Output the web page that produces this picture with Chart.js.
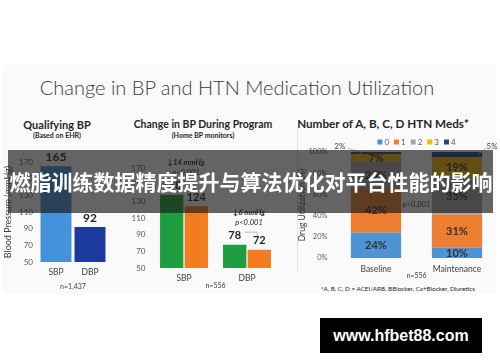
<!DOCTYPE html>
<html><head><meta charset="utf-8">
<script src="https://cdn.jsdelivr.net/npm/chart.js@4.4.0/dist/chart.umd.min.js"></script>
<style>
html,body{margin:0;padding:0;background:#fff;width:500px;height:362px;overflow:hidden;font-family:Lato,sans-serif;}
#slide{position:absolute;left:3px;top:65px;width:494px;height:229px;background:#fafafa;}
.c{position:absolute;white-space:nowrap;color:#262626;transform:translate(-50%,-50%);line-height:1;font-family:Lato,sans-serif;}
canvas{position:absolute;}
#banner{position:absolute;left:8px;top:150px;width:485px;height:63px;background:rgba(28,28,28,0.68);z-index:5;}
#bannerText{position:absolute;left:1px;top:150px;width:500px;height:63px;line-height:63px;text-align:center;color:#fff;font-family:"Noto Sans CJK SC",sans-serif;font-weight:700;font-size:21px;z-index:6;white-space:nowrap;}
#wm{position:absolute;left:320px;top:318px;width:162px;height:35px;background:#000;color:#fff;font-family:"Liberation Sans",Arial,sans-serif;font-weight:700;font-size:16px;line-height:35px;text-align:center;z-index:7;}
</style></head>
<body>
<div id="slide"></div>
<div class="c" style="left:237px;top:87px;font-size:20px;font-weight:300;color:#3a3a3a;">Change in BP and HTN Medication Utilization</div>
<div class="c" style="left:57px;top:124px;font-size:11px;font-weight:700;">Qualifying BP</div>
<div class="c" style="left:57px;top:135px;font-size:7px;font-weight:700;">(Based on EHR)</div>
<div class="c" style="left:203px;top:124px;font-size:10.5px;font-weight:700;">Change in BP During Program</div>
<div class="c" style="left:203px;top:135px;font-size:7px;font-weight:700;">(Home BP monitors)</div>
<div class="c" style="left:383px;top:124px;font-size:11.7px;font-weight:700;">Number of A, B, C, D HTN Meds*</div>
<div class="c" style="left:398px;top:289px;font-size:6.3px;">*A, B, C, D = ACEI/ARB, BBlocker, Ca+Blocker, Diuretics</div>
<canvas id="c1" width="115" height="160" style="left:0px;top:140px;"></canvas>
<canvas id="c2" width="165" height="160" style="left:120px;top:140px;"></canvas>
<canvas id="c3" width="210" height="155" style="left:290px;top:130px;"></canvas>
<div style="position:absolute;left:297px;top:127px;width:1px;height:146px;background:#e2e2e2;"></div>
<div id="banner"></div>
<div id="bannerText">燃脂训练数据精度提升与算法优化对平台性能的影响</div>
<div id="wm">www.hfbet88.com</div>
<script>
const bpCategories = ['SBP', 'DBP'];
const qualifyingBP = [165, 92];
const programBaseline = [138, 78];
const programMaintenance = [124, 72];
const bpTicks = [50, 70, 90, 110, 130, 150, 170];
const medPhases = ['Baseline', 'Maintenance'];
const medCountLabels = ['0', '1', '2', '3', '4'];
const meds0 = [24, 10];
const meds1 = [42, 31];
const meds2 = [25, 35];
const meds3 = [7, 19];
const meds4 = [2, 5];
const pctTicks = [0, 20, 40, 60, 80, 100];

const FONT = 'Lato';

function drawLegend(chart, items, centerX, y, box, textGap, itemGap, size) {
  const ctx = chart.ctx;
  ctx.save();
  ctx.font = size + 'px ' + FONT;
  let total = 0;
  const widths = items.map(it => ctx.measureText(it.text).width);
  widths.forEach((w, i) => { total += box + textGap + w + (i < items.length - 1 ? itemGap : 0); });
  let x = centerX - total / 2;
  ctx.textBaseline = 'middle';
  ctx.textAlign = 'left';
  items.forEach((it, i) => {
    ctx.fillStyle = it.color;
    ctx.fillRect(x, y - box / 2, box, box);
    ctx.fillStyle = '#595959';
    ctx.fillText(it.text, x + box + textGap, y);
    x += box + textGap + widths[i] + itemGap;
  });
  ctx.restore();
}

const valueLabels1 = {
  id: 'valueLabels1',
  afterDatasetsDraw(chart) {
    const ctx = chart.ctx;
    ctx.save();
    ctx.font = 'bold 12px ' + FONT;
    ctx.fillStyle = '#262626';
    ctx.textAlign = 'center'; ctx.textBaseline = 'middle';
    chart.data.datasets.forEach((ds, i) => {
      chart.getDatasetMeta(i).data.forEach((bar, j) => {
        ctx.fillText(String(ds.data[j]), bar.x, bar.y - 9);
      });
    });
    ctx.restore();
  }
};

const baseScale = (tickSize) => ({
  grid: { display: false, drawTicks: false },
  border: { display: false },
  ticks: { color: '#595959', font: { family: FONT, size: tickSize } }
});

// Chart 1
const s1x = baseScale(8.5);
s1x.ticks.padding = 5; s1x.ticks.color = '#404040';
s1x.title = { display: true, text: 'n=1,437', color: '#404040', font: { family: FONT, size: 7 }, padding: { top: 0, bottom: 9 } };
s1x.afterFit = s => { s.height = 38; };
const s1y = baseScale(8);
s1y.min = bpTicks[0]; s1y.max = bpTicks[bpTicks.length - 1];
s1y.ticks.stepSize = bpTicks[1] - bpTicks[0]; s1y.ticks.padding = 6;
s1y.title = { display: true, text: 'Blood Pressure (mmHg)', color: '#404040', font: { family: FONT, size: 9 }, padding: { top: 3, bottom: 0 } };
s1y.afterFit = s => { s.width = 39; };

new Chart(document.getElementById('c1'), {
  type: 'bar',
  data: { labels: bpCategories, datasets: [{ label: 'Qualifying BP', data: qualifyingBP, backgroundColor: ['#4592da', '#1c3a9e'], barPercentage: 0.91, categoryPercentage: 1 }] },
  options: {
    responsive: false, animation: false, devicePixelRatio: 1,
    layout: { padding: { top: 22, right: 8, left: 0, bottom: 0 } },
    plugins: { legend: { display: false }, tooltip: { enabled: false } },
    scales: { x: s1x, y: s1y }
  },
  plugins: [valueLabels1]
});

// Chart 2
const chart2Extras = {
  id: 'chart2Extras',
  afterDatasetsDraw(chart) {
    const ctx = chart.ctx;
    const mb = chart.getDatasetMeta(0).data;
    const mm = chart.getDatasetMeta(1).data;
    const dsB = chart.data.datasets[0].data, dsM = chart.data.datasets[1].data;
    ctx.save();
    ctx.strokeStyle = '#b8b8b8'; ctx.lineWidth = 1;
    mb.forEach((b, j) => {
      const m = mm[j];
      const y1 = b.y - 13, y2 = m.y - 13;
      ctx.beginPath();
      ctx.moveTo(b.x + 10, y1 + 0.5); ctx.lineTo(m.x - 2, y1 + 0.5); ctx.lineTo(m.x - 2, y2);
      ctx.stroke();
    });
    ctx.font = 'bold 11px ' + FONT;
    ctx.fillStyle = '#262626';
    ctx.textAlign = 'center'; ctx.textBaseline = 'middle';
    mb.forEach((b, j) => ctx.fillText(String(dsB[j]), b.x, b.y - 9));
    mm.forEach((m, j) => ctx.fillText(String(dsM[j]), m.x, m.y - 9));
    mb.forEach((b, j) => {
      const m = mm[j];
      const cx = (b.x + m.x) / 2 + 2;
      ctx.font = 'italic bold 7.5px ' + FONT;
      ctx.fillStyle = '#262626';
      ctx.fillText('\u2193' + (dsB[j] - dsM[j]) + ' mmHg', cx, b.y - 32);
      ctx.font = 'italic 7.5px ' + FONT;
      ctx.fillText('p<0.001', cx, b.y - 22);
    });
    ctx.restore();
    drawLegend(chart, chart.data.datasets.map(d => ({ text: d.label, color: d.backgroundColor })), 218, 11, 5, 3, 10, 8.5);
  }
};
const s2x = baseScale(8.5);
s2x.ticks.padding = 5; s2x.ticks.color = '#404040';
s2x.title = { display: true, text: 'n=556', color: '#404040', font: { family: FONT, size: 7 }, padding: { top: 0, bottom: 10 } };
s2x.afterFit = s => { s.height = 32; };
const s2y = baseScale(8);
s2y.min = bpTicks[0]; s2y.max = bpTicks[bpTicks.length - 1];
s2y.ticks.stepSize = bpTicks[1] - bpTicks[0]; s2y.ticks.padding = 7;
s2y.afterFit = s => { s.width = 32.5; };

new Chart(document.getElementById('c2'), {
  type: 'bar',
  data: { labels: bpCategories, datasets: [
    { label: 'Baseline', data: programBaseline, backgroundColor: '#1f9e40', barPercentage: 0.95, categoryPercentage: 0.78 },
    { label: 'Maintenance', data: programMaintenance, backgroundColor: '#f47c20', barPercentage: 0.95, categoryPercentage: 0.78 }
  ] },
  options: {
    responsive: false, animation: false, devicePixelRatio: 1,
    layout: { padding: { top: 28, right: 6.5, left: 0, bottom: 0 } },
    plugins: { legend: { display: false }, tooltip: { enabled: false } },
    scales: { x: s2x, y: s2y }
  },
  plugins: [chart2Extras]
});

// Chart 3
const medColors = ['#4f93d2', '#ed7d31', '#a5a5a5', '#f5b800', '#264478'];
const medSeries = [meds0, meds1, meds2, meds3, meds4];
const chart3Extras = {
  id: 'chart3Extras',
  afterDatasetsDraw(chart) {
    const ctx = chart.ctx;
    ctx.save();
    ctx.textAlign = 'center'; ctx.textBaseline = 'middle';
    chart.data.datasets.forEach((ds, i) => {
      chart.getDatasetMeta(i).data.forEach((bar, j) => {
        const v = ds.data[j];
        if (v >= 7) {
          ctx.font = 'bold 11px ' + FONT;
          ctx.fillStyle = '#303030';
          ctx.fillText(v + '%', bar.x, (bar.y + bar.base) / 2 + 0.5);
        } else {
          ctx.font = '8px ' + FONT;
          ctx.fillStyle = '#404040';
          ctx.strokeStyle = '#b0b0b0'; ctx.lineWidth = 0.8;
          const midY = (bar.y + bar.base) / 2;
          const left = bar.x - bar.width / 2, right = bar.x + bar.width / 2;
          ctx.beginPath();
          if (j === 0) {
            ctx.moveTo(left + 11, midY); ctx.lineTo(left - 3, bar.y - 4); ctx.stroke();
            ctx.fillText(v + '%', left - 11, bar.y - 6);
          } else {
            ctx.moveTo(right - 4, midY); ctx.lineTo(right + 5, bar.y - 5); ctx.stroke();
            ctx.fillText(v + '%', right + 10, bar.y - 6);
          }
        }
      });
    });
    const ca = chart.chartArea;
    ctx.font = 'italic 7.5px ' + FONT;
    ctx.fillStyle = '#404040';
    ctx.fillText('p<0.001', (ca.left + ca.right) / 2, (ca.top + ca.bottom) / 2);
    ctx.restore();
    drawLegend(chart, chart.data.datasets.map(d => ({ text: d.label, color: d.backgroundColor })), (ca.left + ca.right) / 2, 12, 5, 2, 5, 8);
  }
};
const s3x = baseScale(8.5);
s3x.stacked = true;
s3x.ticks.padding = 6; s3x.ticks.color = '#404040';
s3x.title = { display: true, text: 'n=556', color: '#404040', font: { family: FONT, size: 7 }, padding: { top: 0, bottom: 5 } };
s3x.afterFit = s => { s.height = 27; };
const s3y = baseScale(7.5);
s3y.stacked = true;
s3y.min = pctTicks[0]; s3y.max = pctTicks[pctTicks.length - 1];
s3y.ticks.stepSize = pctTicks[1] - pctTicks[0]; s3y.ticks.padding = 8;
s3y.ticks.callback = v => v + '%';
s3y.title = { display: true, text: 'Drug Utilization (%)', color: '#404040', font: { family: FONT, size: 8.5 }, padding: { top: 7, bottom: 0 } };
s3y.afterFit = s => { s.width = 45.5; };

new Chart(document.getElementById('c3'), {
  type: 'bar',
  data: { labels: medPhases, datasets: medSeries.map((d, i) => ({ label: medCountLabels[i], data: d, backgroundColor: medColors[i], barPercentage: 1, categoryPercentage: 0.62 })) },
  options: {
    responsive: false, animation: false, devicePixelRatio: 1,
    layout: { padding: { top: 22, right: 2.5, left: 0, bottom: 0 } },
    plugins: { legend: { display: false }, tooltip: { enabled: false } },
    scales: { x: s3x, y: s3y }
  },
  plugins: [chart3Extras]
});
</script>
</body></html>
